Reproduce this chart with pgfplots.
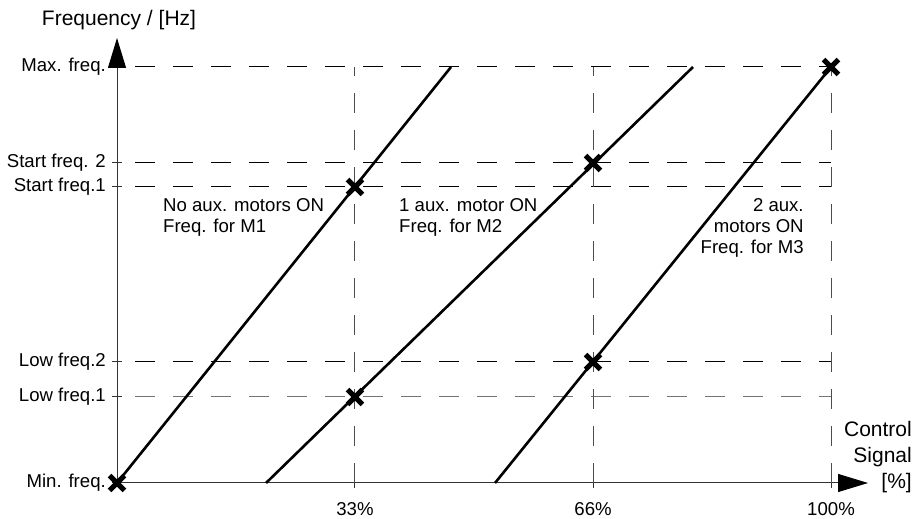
\documentclass[border=0pt]{standalone}
\usepackage{fontspec}
\setmainfont{Liberation Sans}
\usepackage{pgfplots}
\pgfplotsset{compat=1.18}
\usetikzlibrary{arrows.meta}
\begin{document}
\begin{tikzpicture}[x=1pt,y=1pt]
\useasboundingbox (0,0) rectangle (923,519);
\begin{axis}[
  at={(117pt,36pt)}, anchor=south west,
  scale only axis, width=751pt, height=445pt,
  xmin=0, xmax=105.18, ymin=0, ymax=445,
  axis lines=left, clip=false,
  axis line style={black!80, line width=1pt, -{Triangle[length=30pt,width=18pt,color=black]}},
  xtick={33.33,66.67,100}, xticklabels={33\%,66\%,100\%},
  ytick={0,86,121,296,320,416},
  yticklabels={Min. freq.,Low freq.1,Low freq.2,Start freq.1,Start freq. 2,Max. freq.},
  tick align=center, major tick length=10pt,
  tick style={black!80, line width=1pt},
  ticklabel style={font=\fontsize{18.6}{21}\selectfont},
  yticklabel style={anchor=east, inner sep=0pt, xshift=-6pt},
  xticklabel style={anchor=north, inner sep=0pt, yshift=-14pt},
  every axis x label/.style={at={(axis description cs:1,0)}, anchor=east, align=right, inner sep=0pt, xshift=44pt, yshift=26pt, font=\fontsize{21}{26}\selectfont},
  every axis y label/.style={at={(axis description cs:0,1)}, anchor=center, inner sep=0pt, xshift=2pt, yshift=18pt, font=\fontsize{21}{26}\selectfont},
  xlabel={Control\\Signal\\{[\%]}},
  ylabel={Frequency / [Hz]},
]
% horizontal reference lines
\addplot[black, line width=1pt, dash pattern=on 20pt off 18pt, dash phase=20pt] coordinates {(0,416) (100,416)};
\addplot[black, line width=1pt, dash pattern=on 20pt off 18pt, dash phase=20pt] coordinates {(0,320) (100,320)};
\addplot[black, line width=1pt, dash pattern=on 20pt off 18pt, dash phase=20pt] coordinates {(0,296) (100,296)};
\addplot[black, line width=1pt, dash pattern=on 20pt off 18pt, dash phase=20pt] coordinates {(0,121) (100,121)};
\addplot[black!55, line width=1pt, dash pattern=on 20pt off 18pt, dash phase=20pt] coordinates {(0,86) (100,86)};
% vertical reference lines
\addplot[black!70, line width=1pt, dash pattern=on 20pt off 17pt] coordinates {(33.33,0) (33.33,416)};
\addplot[black!70, line width=1pt, dash pattern=on 20pt off 17pt] coordinates {(66.67,0) (66.67,416)};
\addplot[black!70, line width=1pt, dash pattern=on 20pt off 17pt] coordinates {(100,0) (100,416)};
% motor curves
\addplot[black, line width=2.6pt] coordinates {(0,0) (46.78,416)};
\addplot[black, line width=2.6pt] coordinates {(20.87,0) (80.67,416)};
\addplot[black, line width=2.6pt] coordinates {(52.94,0) (100,416)};
% markers
\addplot[only marks, mark=x, mark size=10.5pt, mark options={line width=5.2pt, black}]
  coordinates {(0,0) (33.33,86) (33.33,296) (66.67,121) (66.67,320) (100,416)};
% annotations
\node[anchor=west, align=left, inner sep=0pt, font=\fontsize{18.6}{21}\selectfont] at (axis cs:6.44,265.5) {No aux. motors ON\\Freq. for M1};
\node[anchor=west, align=left, inner sep=0pt, font=\fontsize{18.6}{21}\selectfont] at (axis cs:39.5,265.5) {1 aux. motor ON\\Freq. for M2};
\node[anchor=east, align=right, inner sep=0pt, font=\fontsize{18.6}{21}\selectfont] at (axis cs:96.2,255) {2 aux.\\motors ON\\Freq. for M3};
\end{axis}
\end{tikzpicture}
\end{document}
